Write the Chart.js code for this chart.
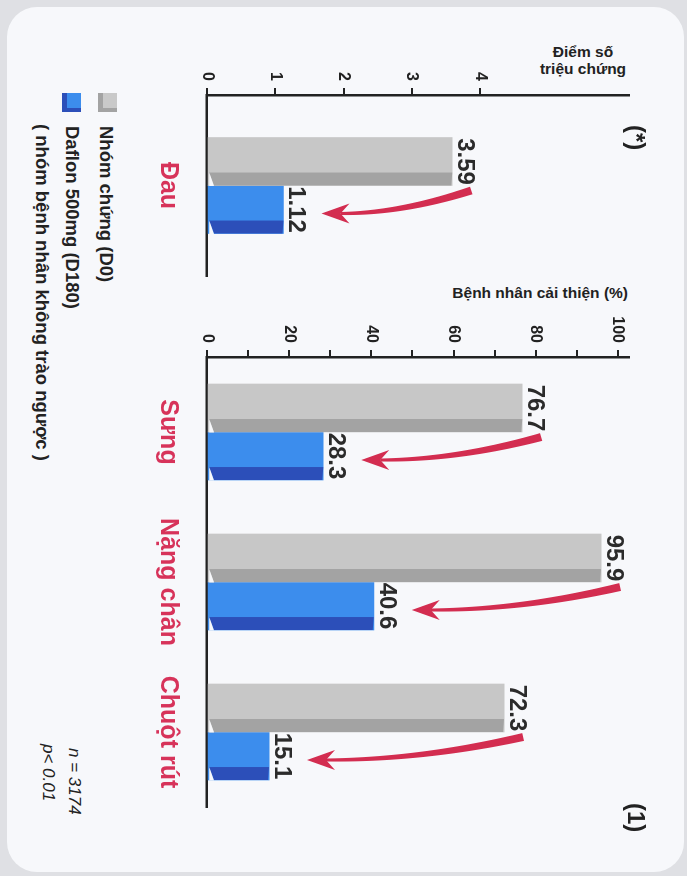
<!DOCTYPE html>
<html>
<head>
<meta charset="utf-8">
<title>Daflon 500mg</title>
<script src="https://cdn.jsdelivr.net/npm/chart.js"></script>
<style>
  html, body { margin: 0; padding: 0; }
  body { width: 687px; height: 876px; background: #dfe0e4; position: relative; overflow: hidden;
         font-family: 'Liberation Sans', Arial, sans-serif; color: #222; }
  #card { position: absolute; left: 7px; top: 7px; width: 677px; height: 865px; background: #f7f8fb; border-radius: 30px; }
  #rot { position: absolute; left: 0; top: 0; width: 876px; height: 687px;
         transform-origin: 0 0; transform: translate(687px, 0) rotate(90deg); }
  #rot canvas { position: absolute; top: 0; }
  .t { position: absolute; white-space: nowrap; font-weight: bold; color: #222; }
  .sq { position: absolute; width: 19px; height: 19px; }
  .ttl { position: absolute; font-weight: bold; font-size: 15.5px; line-height: 17px; color: #222; }
</style>
</head>
<body>
<div id="card"></div>

<div class="ttl" style="left:533px; top:43px; width:100px; text-align:center;">Điểm số<br>triệu chứng</div>
<div class="ttl" style="left:428px; top:284px; width:200px; text-align:right;">Bệnh nhân cải thiện (%)</div>

<div id="rot">
  <canvas id="painChart" width="300" height="560" style="left:0"></canvas>
  <canvas id="pctChart" width="560" height="560" style="left:290px"></canvas>

  <div class="t" style="left:125px; top:37px; font-size:24px; line-height:28px;">(*)</div>
  <div class="t" style="left:803px; top:37px; font-size:24px; line-height:28px;">(1)</div>

  <div class="sq" style="left:93px; top:570px; background:#c9c9c9; box-shadow: inset -4px -5px 0 #a3a3a3;"></div>
  <div class="sq" style="left:93px; top:606px; background:#3c8ded; box-shadow: inset -4px -5px 0 #2c4fb9;"></div>
  <div class="t" style="left:126px; top:571px; font-size:18.5px; line-height:20px;">Nhóm chứng (D0)</div>
  <div class="t" style="left:126px; top:605px; font-size:18.5px; line-height:20px;">Daflon 500mg (D180)</div>
  <div class="t" style="left:124px; top:635px; font-size:18.5px; line-height:20px;">( nhóm bệnh nhân không trào ngược )</div>

  <div class="t" style="left:748px; top:603px; font-size:17px; line-height:20px; font-weight:normal; font-style:italic;">n = 3174</div>
  <div class="t" style="left:744px; top:629px; font-size:17px; line-height:20px; font-weight:normal; font-style:italic;">p&lt; 0.01</div>
</div>

<script>
// symptom score (left panel)
var painLabels = ['Đau'];
var painControl = [3.59];
var painDaflon = [1.12];
var scoreTicks = [0, 1, 2, 3, 4];

// % of patients improved (right panel)
var pctLabels = ['Sưng', 'Nặng chân', 'Chuột rút'];
var pctControl = [76.7, 95.9, 72.3];
var pctDaflon = [28.3, 40.6, 15.1];
var pctTicks = [0, 20, 40, 60, 80, 100];

Chart.defaults.font.family = "'Liberation Sans', Arial, sans-serif";
Chart.defaults.color = '#222';

var greyFace = '#c7c7c7', greySide = '#a3a3a3';
var blueFace = '#3c8ded', blueSide = '#2c4fb9';
var cardColor = '#f7f8fb';
var arrowColor = '#d32d50';

function drawArrow(ctx, sx, sy, tx, ty) {
    var cx = tx, cy = sy + (ty - sy) * 0.47;
    var ex = tx, ey = ty - 19;
    var a = [], b = [];
    for (var k = 0; k <= 40; k++) {
        var t = k / 40, mt = 1 - t;
        var px = mt * mt * sx + 2 * mt * t * cx + t * t * ex;
        var py = mt * mt * sy + 2 * mt * t * cy + t * t * ey;
        var dx = 2 * mt * (cx - sx) + 2 * t * (ex - cx);
        var dy = 2 * mt * (cy - sy) + 2 * t * (ey - cy);
        var len = Math.hypot(dx, dy) || 1;
        var hw = (8 - 5 * t) / 2;
        a.push([px - dy / len * hw, py + dx / len * hw]);
        b.push([px + dy / len * hw, py - dx / len * hw]);
    }
    ctx.fillStyle = arrowColor;
    ctx.beginPath();
    ctx.moveTo(a[0][0], a[0][1]);
    a.forEach(function (p) { ctx.lineTo(p[0], p[1]); });
    b.reverse().forEach(function (p) { ctx.lineTo(p[0], p[1]); });
    ctx.closePath();
    ctx.fill();

    // head
    var ux = tx - cx, uy = ty - cy, ul = Math.hypot(ux, uy);
    ux /= ul; uy /= ul;
    var nx = -uy, ny = ux;
    ctx.beginPath();
    ctx.moveTo(tx, ty);
    ctx.lineTo(tx - ux * 28 + nx * 10, ty - uy * 28 + ny * 10);
    ctx.lineTo(tx - ux * 19, ty - uy * 19);
    ctx.lineTo(tx - ux * 28 - nx * 10, ty - uy * 28 - ny * 10);
    ctx.closePath();
    ctx.fill();
}

var barDecor = {
    id: 'barDecor',
    afterDatasetsDraw: function (chart) {
        var ctx = chart.ctx;
        var grey = chart.getDatasetMeta(0).data;
        var blue = chart.getDatasetMeta(1).data;
        var values = [chart.data.datasets[0].data, chart.data.datasets[1].data];
        ctx.save();
        [grey, blue].forEach(function (bars, d) {
            bars.forEach(function (bar, i) {
                var right = bar.x + bar.width / 2;
                var sw = bar.width * 0.27;
                // darker side face
                ctx.fillStyle = d === 0 ? greySide : blueSide;
                ctx.beginPath();
                ctx.moveTo(right - sw, bar.y);
                ctx.lineTo(right, bar.y + 1);
                ctx.lineTo(right, bar.base - 6);
                ctx.lineTo(right - sw, bar.base - 1);
                ctx.closePath();
                ctx.fill();
                ctx.fillStyle = cardColor;
                ctx.beginPath();
                ctx.moveTo(right + 0.5, bar.base - 6);
                ctx.lineTo(right + 0.5, bar.base - 1.3);
                ctx.lineTo(right - sw, bar.base - 1.3);
                ctx.closePath();
                ctx.fill();
                // value label
                ctx.fillStyle = '#2b2b2b';
                ctx.font = "bold 24px 'Liberation Sans', Arial, sans-serif";
                ctx.textAlign = 'center';
                ctx.textBaseline = 'alphabetic';
                ctx.fillText(String(values[d][i]), bar.x, bar.y - 6);
            });
        });
        grey.forEach(function (g, i) {
            var b = blue[i];
            drawArrow(ctx, g.x + g.width / 2 + 5, g.y - 19, b.x + 4, b.y - 38);
        });
        ctx.restore();
    }
};

function makeOptions(yMax, step, tickList, pad) {
    return {
        responsive: false,
        animation: false,
        layout: { padding: pad },
        plugins: { legend: { display: false }, tooltip: { enabled: false } },
        scales: {
            x: {
                afterFit: function (s) { s.height = 60; },
                grid: { display: false, drawTicks: false },
                border: { display: true, color: '#222', width: 2.5 },
                ticks: { color: '#d7335a', padding: 24, font: { size: 25, weight: 'bold' } }
            },
            y: {
                min: 0,
                max: yMax,
                afterFit: function (s) { s.width = 55; },
                border: { display: true, color: '#222', width: 2.5 },
                grid: {
                    drawOnChartArea: false,
                    tickLength: 7,
                    lineWidth: 2,
                    color: '#222',
                    tickColor: function (c) {
                        return c.tick && c.tick.value <= tickList[tickList.length - 1] ? '#222' : 'rgba(0,0,0,0)';
                    }
                },
                ticks: {
                    stepSize: step,
                    includeBounds: false,
                    padding: 7,
                    color: '#222',
                    font: { size: 16, weight: 'bold' },
                    callback: function (v) { return tickList.indexOf(v) >= 0 ? String(v) : ''; }
                }
            }
        }
    };
}

new Chart(document.getElementById('painChart'), {
    type: 'bar',
    data: {
        labels: painLabels,
        datasets: [
            { label: 'Nhóm chứng (D0)', data: painControl, backgroundColor: greyFace, barThickness: 48 },
            { label: 'Daflon 500mg (D180)', data: painDaflon, backgroundColor: blueFace, barThickness: 48 }
        ]
    },
    options: makeOptions(6.18, 1, scoreTicks, { left: 40, right: 24, top: 58, bottom: 20 }),
    plugins: [barDecor]
});

new Chart(document.getElementById('pctChart'), {
    type: 'bar',
    data: {
        labels: pctLabels,
        datasets: [
            { label: 'Nhóm chứng (D0)', data: pctControl, backgroundColor: greyFace, barThickness: 48 },
            { label: 'Daflon 500mg (D180)', data: pctDaflon, backgroundColor: blueFace, barThickness: 48 }
        ]
    },
    options: makeOptions(102.7, 10, pctTicks, { left: 12, right: 43, top: 58, bottom: 20 }),
    plugins: [barDecor]
});
</script>
</body>
</html>
